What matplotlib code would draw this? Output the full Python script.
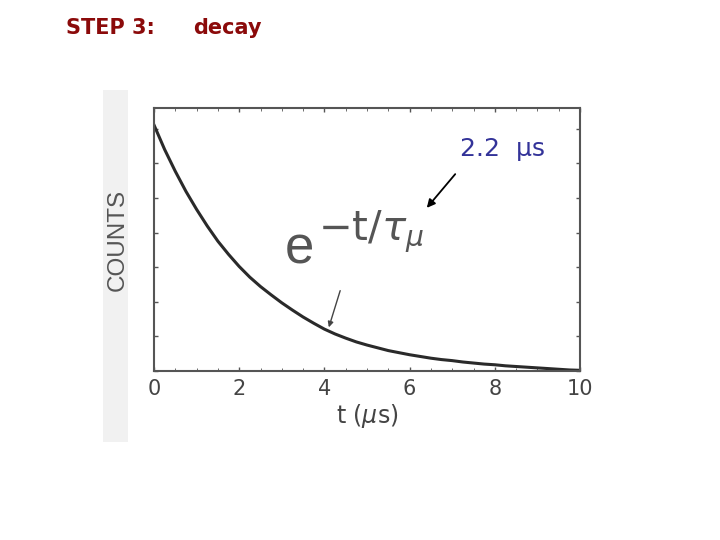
import matplotlib
matplotlib.use('agg')
import matplotlib.pyplot as plt
from matplotlib.patches import Rectangle

# 读出的衰减曲线数据 (t 单位 μs)
t_us = [0, 0.25, 0.5, 0.75, 1, 1.25, 1.5, 1.75, 2, 2.25, 2.5, 2.75, 3, 3.25, 3.5, 3.75,
        4, 4.25, 4.5, 4.75, 5, 5.25, 5.5, 5.75, 6, 6.25, 6.5, 6.75, 7, 7.25, 7.5, 7.75,
        8, 8.25, 8.5, 8.75, 9, 9.25, 9.5, 9.75, 10]
counts = [711, 640, 577, 519, 467, 419, 375, 337, 302, 271, 244, 220, 197, 176, 156, 138,
          121, 107, 95, 84, 75, 67, 59, 53, 47, 42, 37, 33, 30, 26, 23, 20,
          18, 15, 13, 11, 9, 7, 5, 3, 2]
xticks = [0, 2, 4, 6, 8, 10]

W, H = 720, 540

def px(x, y):
    return x / W, 1 - y / H

fig = plt.figure(figsize=(7.2, 5.4), dpi=100)
fig.patch.set_facecolor('white')

# 扫描图左侧的灰条
fig.patches.append(Rectangle(px(103, 442), 25 / W, 352 / H, transform=fig.transFigure,
                             facecolor='#f1f1f1', edgecolor='none', zorder=0))

ax = fig.add_axes([154 / W, 169 / H, 426 / W, 263 / H])
ax.plot(t_us, counts, color='#2a2a2a', lw=2.2)
ax.set_xlim(0, 10)
ax.set_ylim(0, 760)
ax.set_xticks(xticks)
ax.set_xticks([x * 0.5 for x in range(21)], minor=True)
ax.set_yticks(range(0, 761, 100))
ax.set_yticklabels([])
ax.tick_params(direction='in', top=True, right=True, length=3, width=1, colors='#555',
               labelsize=15, labelcolor='#444', pad=6)
ax.tick_params(which='minor', direction='in', top=True, right=False, length=2, colors='#555')
for s in ax.spines.values():
    s.set_color('#555')
    s.set_linewidth(1.5)

ax.set_xlabel(r't ($\mu$s)', fontsize=17, color='#444', labelpad=2)
fig.text(*px(118, 240), 'COUNTS', rotation=90, fontsize=17.5, color='#555',
         ha='center', va='center', family='Liberation Sans')

# 图中的公式
fig.text(*px(285, 264), 'e', fontsize=38, color='#555', ha='left', va='baseline',
         family='Liberation Sans')
fig.text(*px(318, 240), r'$-\mathrm{t}/\tau_\mu$', fontsize=29, color='#555', ha='left',
         va='baseline')

# 指向曲线的细箭头
ax.annotate('', xy=px(328, 330), xytext=px(341, 288), xycoords='figure fraction',
            textcoords='figure fraction',
            arrowprops=dict(arrowstyle='-|>', color='#444', lw=1, mutation_scale=8))

# 2.2 μs 标注
ax.annotate('', xy=px(425, 210), xytext=px(457, 172), xycoords='figure fraction',
            textcoords='figure fraction',
            arrowprops=dict(arrowstyle='-|>', color='black', lw=1.3, mutation_scale=12))
fig.text(*px(502, 149), '2.2  μs', fontsize=18, color='#333399', ha='center', va='center',
         family='DejaVu Sans')

# 标题
fig.text(*px(66, 28), 'STEP 3:', fontsize=15, color='#8b0a0a', fontweight='bold',
         ha='left', va='center', family='DejaVu Sans')
fig.text(*px(193, 28), 'decay', fontsize=15, color='#8b0a0a', fontweight='bold',
         ha='left', va='center', family='DejaVu Sans')

fig.savefig('out.png', dpi=100)
